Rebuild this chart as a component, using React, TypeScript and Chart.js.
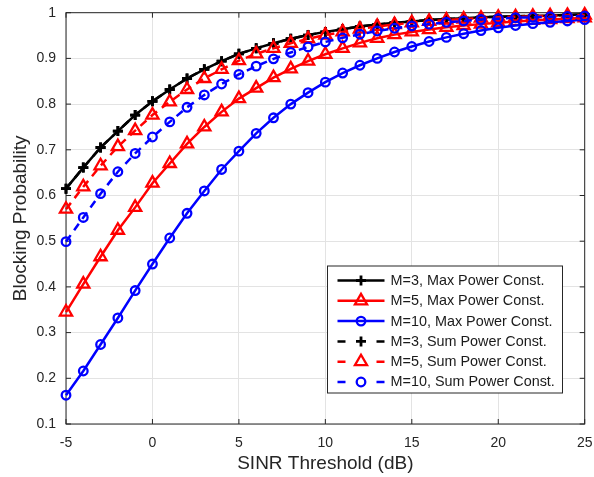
import React, { useEffect, useRef } from 'react';
import { Chart, registerables } from 'chart.js';

Chart.register(...registerables);

// ---- data ----
const sinrDb = [-5, -4, -3, -2, -1, 0, 1, 2, 3, 4, 5, 6, 7, 8, 9, 10, 11, 12, 13, 14, 15, 16, 17, 18, 19, 20, 21, 22, 23, 24, 25];

const m3Max = [0.615, 0.661, 0.705, 0.741, 0.776, 0.806, 0.832, 0.856, 0.876, 0.894, 0.910, 0.922, 0.933, 0.943, 0.951, 0.958, 0.964, 0.970, 0.974, 0.978, 0.981, 0.984, 0.986, 0.988, 0.990, 0.991, 0.992, 0.993, 0.994, 0.995, 0.996];
const m5Max = [0.345, 0.406, 0.466, 0.524, 0.574, 0.627, 0.670, 0.713, 0.750, 0.783, 0.812, 0.835, 0.858, 0.877, 0.894, 0.909, 0.922, 0.934, 0.944, 0.952, 0.958, 0.963, 0.968, 0.972, 0.975, 0.978, 0.981, 0.983, 0.985, 0.987, 0.989];
const m10Max = [0.163, 0.216, 0.274, 0.332, 0.392, 0.450, 0.507, 0.561, 0.610, 0.657, 0.697, 0.736, 0.770, 0.800, 0.825, 0.848, 0.868, 0.885, 0.900, 0.914, 0.926, 0.937, 0.946, 0.954, 0.961, 0.967, 0.972, 0.976, 0.979, 0.982, 0.985];
const m3Sum = [0.615, 0.661, 0.705, 0.741, 0.776, 0.806, 0.832, 0.856, 0.876, 0.894, 0.910, 0.922, 0.933, 0.943, 0.951, 0.958, 0.964, 0.970, 0.974, 0.978, 0.981, 0.984, 0.986, 0.988, 0.990, 0.991, 0.992, 0.993, 0.994, 0.995, 0.996];
const m5Sum = [0.570, 0.619, 0.665, 0.707, 0.742, 0.776, 0.805, 0.832, 0.856, 0.876, 0.895, 0.910, 0.922, 0.933, 0.943, 0.951, 0.958, 0.964, 0.970, 0.974, 0.978, 0.981, 0.984, 0.986, 0.988, 0.990, 0.991, 0.992, 0.993, 0.994, 0.995];
const m10Sum = [0.499, 0.552, 0.604, 0.652, 0.692, 0.728, 0.761, 0.793, 0.820, 0.844, 0.865, 0.883, 0.899, 0.913, 0.925, 0.936, 0.945, 0.953, 0.960, 0.966, 0.971, 0.975, 0.979, 0.982, 0.985, 0.987, 0.989, 0.990, 0.991, 0.992, 0.993];

const seriesLabels = [
  'M=3, Max Power Const.',
  'M=5, Max Power Const.',
  'M=10, Max Power Const.',
  'M=3, Sum Power Const.',
  'M=5, Sum Power Const.',
  'M=10, Sum Power Const.',
];
const seriesValues = [m3Max, m5Max, m10Max, m3Sum, m5Sum, m10Sum];
const seriesColors = ['#000000', '#ff0000', '#0000ff', '#000000', '#ff0000', '#0000ff'];
const seriesMarkers = ['cross', 'triangle', 'circle', 'cross', 'triangle', 'circle'];
const seriesDashed = [false, false, false, true, true, true];

const xTicks = [-5, 0, 5, 10, 15, 20, 25];
const yTicks = [0.1, 0.2, 0.3, 0.4, 0.5, 0.6, 0.7, 0.8, 0.9, 1];

const xTitle = 'SINR Threshold (dB)';
const yTitle = 'Blocking Probability';

// ---- styling ----
const FONT = "'Liberation Sans', Arial, Helvetica, sans-serif";
const AXIS_COLOR = '#262626';
const GRID_COLOR = '#e3e3e3';
const markerRadius: Record<string, number> = { cross: 5, triangle: 7, circle: 4.3 };
const markerWidth: Record<string, number> = { cross: 2.8, triangle: 2.3, circle: 2.3 };

function drawMarker(ctx: CanvasRenderingContext2D, style: string, x: number, y: number, r: number, color: string, lw: number) {
  ctx.save();
  ctx.strokeStyle = color;
  ctx.lineWidth = lw;
  ctx.setLineDash([]);
  ctx.beginPath();
  if (style === 'cross') {
    ctx.moveTo(x - r, y);
    ctx.lineTo(x + r, y);
    ctx.moveTo(x, y - r);
    ctx.lineTo(x, y + r);
  } else if (style === 'triangle') {
    ctx.moveTo(x, y - r);
    ctx.lineTo(x + Math.sin((2 * Math.PI) / 3) * r, y - Math.cos((2 * Math.PI) / 3) * r);
    ctx.lineTo(x + Math.sin((4 * Math.PI) / 3) * r, y - Math.cos((4 * Math.PI) / 3) * r);
    ctx.closePath();
  } else {
    ctx.arc(x, y, r, 0, Math.PI * 2);
  }
  ctx.stroke();
  ctx.restore();
}

const matlabPlugin = {
  id: 'matlabFrame',
  beforeDatasetsDraw(chart: any) {
    const { ctx, chartArea } = chart;
    const { left, right, top, bottom } = chartArea;
    const xs = chart.scales.x;
    const ys = chart.scales.y;
    ctx.save();
    ctx.strokeStyle = AXIS_COLOR;
    ctx.lineWidth = 1;
    ctx.strokeRect(left, top, right - left, bottom - top);
    const tl = 5;
    ctx.beginPath();
    xTicks.forEach((v) => {
      const px = xs.getPixelForValue(v);
      ctx.moveTo(px, bottom);
      ctx.lineTo(px, bottom - tl);
      ctx.moveTo(px, top);
      ctx.lineTo(px, top + tl);
    });
    yTicks.forEach((v) => {
      const py = ys.getPixelForValue(v);
      ctx.moveTo(left, py);
      ctx.lineTo(left + tl, py);
      ctx.moveTo(right, py);
      ctx.lineTo(right - tl, py);
    });
    ctx.stroke();
    ctx.restore();
  },
  afterDraw(chart: any) {
    const { ctx } = chart;
    const bx = 327.5;
    const by = 266;
    const bw = 235;
    const bh = 127;
    ctx.save();
    ctx.fillStyle = '#ffffff';
    ctx.fillRect(bx, by, bw, bh);
    ctx.strokeStyle = AXIS_COLOR;
    ctx.lineWidth = 1;
    ctx.strokeRect(bx, by, bw, bh);
    ctx.font = `14.4px ${FONT}`;
    ctx.textBaseline = 'middle';
    ctx.textAlign = 'left';
    seriesLabels.forEach((lab, i) => {
      const y = by + 14.5 + i * 20.3;
      const x0 = 337.5;
      const x1 = 384.5;
      const xm = 361;
      const col = seriesColors[i];
      ctx.strokeStyle = col;
      ctx.lineWidth = 2.5;
      ctx.beginPath();
      if (seriesDashed[i]) {
        ctx.moveTo(x0, y);
        ctx.lineTo(x0 + 8, y);
        ctx.moveTo(x1 - 8, y);
        ctx.lineTo(x1, y);
      } else {
        ctx.moveTo(x0, y);
        ctx.lineTo(x1, y);
      }
      ctx.stroke();
      const mk = seriesMarkers[i];
      drawMarker(ctx, mk, xm, y, markerRadius[mk], col, markerWidth[mk]);
      ctx.fillStyle = '#1a1a1a';
      ctx.fillText(lab, 390.5, y + 0.5);
    });
    ctx.restore();
  },
};

export default function App() {
  const canvasRef = useRef<HTMLCanvasElement | null>(null);

  useEffect(() => {
    const canvas = canvasRef.current;
    if (!canvas) return;
    const datasets = seriesValues.map((vals, i) => ({
      label: seriesLabels[i],
      data: sinrDb.map((x, j) => ({ x, y: vals[j] })),
      borderColor: seriesColors[i],
      backgroundColor: 'rgba(0,0,0,0)',
      borderWidth: 2.5,
      borderDash: seriesDashed[i] ? [8, 6] : [],
      pointStyle: seriesMarkers[i],
      pointRadius: markerRadius[seriesMarkers[i]],
      pointBorderWidth: markerWidth[seriesMarkers[i]],
      pointBorderColor: seriesColors[i],
      pointBackgroundColor: 'rgba(0,0,0,0)',
      tension: 0,
      fill: false,
      clip: false as any,
      order: -i,
    }));

    const chart = new Chart(canvas, {
      type: 'line',
      data: { datasets: datasets as any },
      options: {
        responsive: false,
        animation: false,
        events: [],
        layout: { padding: { left: 0, right: 0, top: 12.7, bottom: 0 } },
        plugins: {
          legend: { display: false },
          tooltip: { enabled: false },
          title: { display: false },
        },
        scales: {
          x: {
            type: 'linear',
            min: -5,
            max: 25,
            afterBuildTicks: (scale: any) => {
              scale.ticks = xTicks.map((v) => ({ value: v }));
            },
            afterFit: (scale: any) => {
              scale.height = 53;
              scale.paddingLeft = 0;
              scale.paddingRight = 7.5;
            },
            ticks: {
              color: '#262626',
              font: { family: FONT, size: 14 },
              padding: 11,
              maxRotation: 0,
              autoSkip: false,
              callback: (v: any) => String(v),
            },
            grid: { color: GRID_COLOR, drawTicks: false, lineWidth: 1 },
            border: { display: false },
            title: {
              display: true,
              text: xTitle,
              color: '#262626',
              font: { family: FONT, size: 19 },
              padding: { top: 0, bottom: 2 },
            },
          },
          y: {
            type: 'linear',
            min: 0.1,
            max: 1,
            afterBuildTicks: (scale: any) => {
              scale.ticks = yTicks.map((v) => ({ value: v }));
            },
            afterFit: (scale: any) => {
              scale.width = 66;
              scale.paddingTop = 0;
              scale.paddingBottom = 0;
            },
            ticks: {
              color: '#262626',
              font: { family: FONT, size: 14 },
              padding: 10,
              autoSkip: false,
              callback: (v: any) => String(Math.round(Number(v) * 10) / 10),
            },
            grid: { color: GRID_COLOR, drawTicks: false, lineWidth: 1 },
            border: { display: false },
            title: {
              display: true,
              text: yTitle,
              color: '#262626',
              font: { family: FONT, size: 19 },
              padding: { top: 9.4, bottom: 0 },
            },
          },
        },
      },
      plugins: [matlabPlugin],
    });

    return () => {
      chart.destroy();
    };
  }, []);

  return (
    <div style={{ position: 'absolute', left: 0, top: 0, width: 594, height: 477, background: '#ffffff' }}>
      <canvas ref={canvasRef} width={594} height={477} style={{ display: 'block', width: 594, height: 477 }} />
    </div>
  );
}
